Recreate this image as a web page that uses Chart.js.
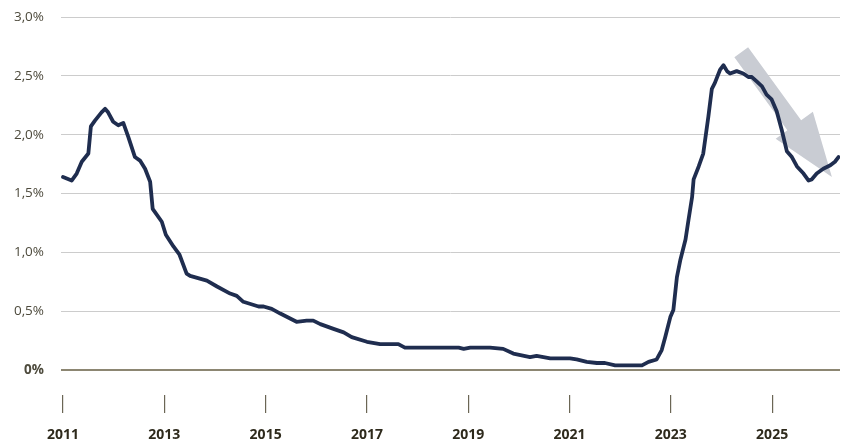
<!DOCTYPE html>
<html>
<head>
<meta charset="utf-8">
<script src="https://cdn.jsdelivr.net/npm/chart.js@4.4.1/dist/chart.umd.min.js"></script>
<style>
  html, body { margin: 0; padding: 0; background: #fff; }
  #wrap { width: 846px; height: 448px; }
</style>
</head>
<body>
<div id="wrap"><canvas id="chart" width="846" height="448"></canvas></div>
<script>
// rate, %
const years = [
    2011.00, 2011.17, 2011.27, 2011.37, 2011.50, 2011.55, 2011.63, 2011.76, 2011.83, 2011.89,
    2011.99, 2012.09, 2012.19, 2012.29, 2012.42, 2012.52, 2012.62, 2012.72, 2012.77, 2012.95,
    2013.03, 2013.18, 2013.30, 2013.44, 2013.51, 2013.84, 2014.04, 2014.30, 2014.43, 2014.56,
    2014.86, 2014.96, 2015.12, 2015.29, 2015.61, 2015.81, 2015.94, 2016.08, 2016.34, 2016.54,
    2016.70, 2017.00, 2017.26, 2017.62, 2017.75, 2018.31, 2018.81, 2018.91, 2019.04, 2019.43,
    2019.69, 2019.89, 2020.22, 2020.35, 2020.62, 2021.01, 2021.14, 2021.34, 2021.54, 2021.70,
    2021.90, 2022.43, 2022.56, 2022.72, 2022.82, 2022.89, 2022.99, 2023.05, 2023.12, 2023.19,
    2023.29, 2023.35, 2023.42, 2023.45, 2023.55, 2023.64, 2023.74, 2023.81, 2023.87, 2023.97,
    2024.04, 2024.11, 2024.17, 2024.30, 2024.43, 2024.53, 2024.60, 2024.70, 2024.80, 2024.89,
    2024.99, 2025.09, 2025.19, 2025.29, 2025.39, 2025.49, 2025.62, 2025.72, 2025.78, 2025.88,
    2026.01, 2026.15, 2026.24, 2026.31
];
const rates = [
    1.64, 1.61, 1.67, 1.77, 1.84, 2.07, 2.12, 2.19, 2.22, 2.19,
    2.11, 2.08, 2.10, 1.98, 1.81, 1.78, 1.71, 1.60, 1.37, 1.26,
    1.15, 1.05, 0.98, 0.82, 0.80, 0.76, 0.71, 0.65, 0.63, 0.58,
    0.54, 0.54, 0.52, 0.48, 0.41, 0.42, 0.42, 0.39, 0.35, 0.32,
    0.28, 0.24, 0.22, 0.22, 0.19, 0.19, 0.19, 0.18, 0.19, 0.19,
    0.18, 0.14, 0.11, 0.12, 0.10, 0.10, 0.09, 0.07, 0.06, 0.06,
    0.04, 0.04, 0.07, 0.09, 0.17, 0.28, 0.45, 0.51, 0.79, 0.94,
    1.11, 1.28, 1.47, 1.62, 1.73, 1.84, 2.15, 2.39, 2.44, 2.55,
    2.59, 2.54, 2.52, 2.54, 2.52, 2.49, 2.49, 2.45, 2.41, 2.34,
    2.30, 2.20, 2.04, 1.86, 1.81, 1.73, 1.67, 1.61, 1.62, 1.67,
    1.71, 1.74, 1.77, 1.81
];
const yTicks = [0, 0.5, 1, 1.5, 2, 2.5, 3];
const xTicks = [2011, 2013, 2015, 2017, 2019, 2021, 2023, 2025];

// grey trend arrow, in data units [year, rate]
const arrowFrom = [2024.39, 2.70];
const arrowTo = [2026.18, 1.64];

const fontFamily = "'Open Sans', 'Noto Sans', sans-serif";

const arrowPlugin = {
    id: 'trendArrow',
    beforeDatasetsDraw(chart) {
        const { ctx, scales: { x, y } } = chart;
        const x0 = x.getPixelForValue(arrowFrom[0]);
        const y0 = y.getPixelForValue(arrowFrom[1]);
        const x1 = x.getPixelForValue(arrowTo[0]);
        const y1 = y.getPixelForValue(arrowTo[1]);
        const len = Math.hypot(x1 - x0, y1 - y0);
        const ang = Math.atan2(y1 - y0, x1 - x0);
        const shaft = 8.5, head = 23, headLen = 64;
        ctx.save();
        ctx.translate(x0, y0);
        ctx.rotate(ang);
        ctx.beginPath();
        ctx.moveTo(0, -shaft);
        ctx.lineTo(len - headLen, -shaft);
        ctx.lineTo(len - headLen, -head);
        ctx.lineTo(len, 0);
        ctx.lineTo(len - headLen, head);
        ctx.lineTo(len - headLen, shaft);
        ctx.lineTo(0, shaft);
        ctx.closePath();
        ctx.fillStyle = '#c9ccd3';
        ctx.fill();
        ctx.restore();
    }
};

const ctx = document.getElementById('chart').getContext('2d');
new Chart(ctx, {
    type: 'line',
    data: {
        datasets: [{
            data: years.map((yr, i) => ({ x: yr, y: rates[i] })),
            borderColor: '#1f2d4f',
            borderWidth: 3.8,
            pointRadius: 0,
            tension: 0,
            borderJoinStyle: 'round',
            borderCapStyle: 'round',
        }]
    },
    options: {
        responsive: false,
        animation: false,
        layout: { padding: { top: 17, right: 6, left: 0, bottom: 0 } },
        plugins: {
            legend: { display: false },
            tooltip: { enabled: false },
        },
        scales: {
            x: {
                type: 'linear',
                min: 2010.96,
                max: 2026.34,
                afterBuildTicks: axis => { axis.ticks = xTicks.map(v => ({ value: v })); },
                afterFit: axis => {
                    axis.height = 53;
                    axis.paddingLeft = 0;
                    axis.paddingRight = 0;
                },
                border: { display: false },
                grid: {
                    drawOnChartArea: false,
                    drawTicks: true,
                    tickLength: 18,
                    color: '#6b6655',
                    lineWidth: 1.2,
                },
                ticks: {
                    padding: 14,
                    maxRotation: 0,
                    color: '#2e2a1c',
                    font: { family: fontFamily, size: 14, weight: 'bold' },
                    callback: v => String(v),
                },
            },
            y: {
                min: -0.212,
                max: 3,
                afterBuildTicks: axis => { axis.ticks = yTicks.map(v => ({ value: v })); },
                afterFit: axis => {
                    axis.width = 61;
                    axis.paddingTop = 0;
                    axis.paddingBottom = 0;
                },
                border: { display: false },
                grid: {
                    drawTicks: false,
                    color: c => c.tick && c.tick.value === 0 ? '#8c8672' : '#cccccc',
                    lineWidth: c => c.tick && c.tick.value === 0 ? 2 : 1,
                },
                ticks: {
                    padding: 17,
                    color: '#4d4a3c',
                    font: c => ({
                        family: fontFamily,
                        size: 13.5,
                        weight: c.tick && c.tick.value === 0 ? 'bold' : 'normal'
                    }),
                    callback: v => v === 0 ? '0%' : v.toFixed(1).replace('.', ',') + '%',
                },
            },
        },
    },
    plugins: [arrowPlugin],
});
</script>
</body>
</html>
